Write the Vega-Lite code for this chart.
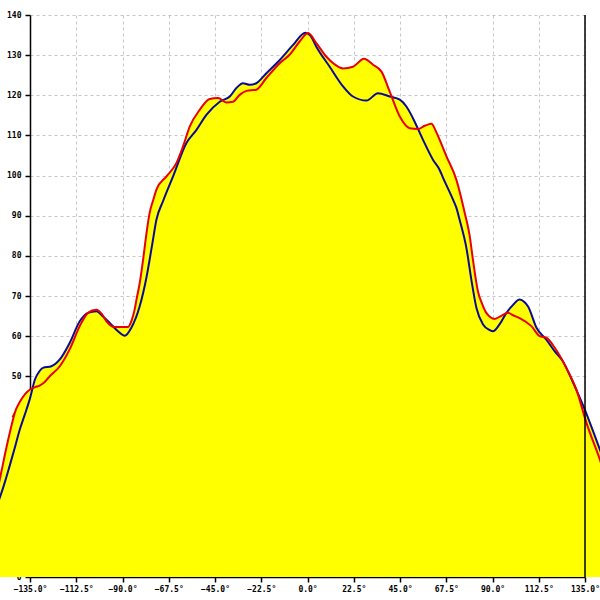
{
  "$schema": "https://vega.github.io/schema/vega-lite/v6.json",
  "width": 555,
  "height": 562,
  "autosize": {"type": "none"},
  "padding": {"left": 30, "top": 15, "right": 15, "bottom": 23},
  "background": "white",
  "view": {"stroke": null},
  "config": {
    "axis": {
      "labelFont": "DejaVu Sans Mono",
      "labelFontSize": 8,
      "labelFontWeight": "bold",
      "labelColor": "black",
      "domain": true,
      "ticks": true,
      "domainColor": "#000000",
      "domainWidth": 1.5,
      "domainOpacity": 1,
      "tickColor": "#000000",
      "tickWidth": 1.5,
      "tickOpacity": 1,
      "tickSize": 5,
      "gridDash": [3, 3],
      "gridColor": "#999999",
      "gridOpacity": 0.55,
      "title": null,
      "zindex": 1,
      "labelFlush": false,
      "labelOverlap": false,
      "labelBound": false
    }
  },
  "data": {
    "values": [
      {"angle": -152, "series": "s1", "value": 16.5},
      {"angle": -150, "series": "s1", "value": 19.3},
      {"angle": -147, "series": "s1", "value": 24},
      {"angle": -145, "series": "s1", "value": 27.5},
      {"angle": -142.5, "series": "s1", "value": 32},
      {"angle": -140, "series": "s1", "value": 36.7},
      {"angle": -137.5, "series": "s1", "value": 40.5},
      {"angle": -135, "series": "s1", "value": 44.5},
      {"angle": -132.6, "series": "s1", "value": 49.2},
      {"angle": -130.5, "series": "s1", "value": 51.2},
      {"angle": -128.7, "series": "s1", "value": 52.1},
      {"angle": -124.6, "series": "s1", "value": 52.5},
      {"angle": -120.5, "series": "s1", "value": 54.2},
      {"angle": -115.7, "series": "s1", "value": 58.3},
      {"angle": -110.8, "series": "s1", "value": 63.7},
      {"angle": -106.8, "series": "s1", "value": 65.8},
      {"angle": -102.7, "series": "s1", "value": 66.2},
      {"angle": -99.5, "series": "s1", "value": 64.9},
      {"angle": -96.2, "series": "s1", "value": 63.3},
      {"angle": -92.2, "series": "s1", "value": 61.2},
      {"angle": -88.9, "series": "s1", "value": 60.1},
      {"angle": -85.7, "series": "s1", "value": 62.1},
      {"angle": -81.6, "series": "s1", "value": 67.5},
      {"angle": -78.4, "series": "s1", "value": 74.5},
      {"angle": -75.5, "series": "s1", "value": 83},
      {"angle": -73.5, "series": "s1", "value": 89},
      {"angle": -70.3, "series": "s1", "value": 93.6},
      {"angle": -65.4, "series": "s1", "value": 99.8},
      {"angle": -58.9, "series": "s1", "value": 108.1},
      {"angle": -54, "series": "s1", "value": 111.4},
      {"angle": -49.2, "series": "s1", "value": 115.1},
      {"angle": -42.7, "series": "s1", "value": 118.4},
      {"angle": -37.8, "series": "s1", "value": 119.7},
      {"angle": -34.6, "series": "s1", "value": 121.8},
      {"angle": -31.4, "series": "s1", "value": 123},
      {"angle": -28.1, "series": "s1", "value": 122.6},
      {"angle": -24.9, "series": "s1", "value": 123},
      {"angle": -20, "series": "s1", "value": 125.5},
      {"angle": -13.5, "series": "s1", "value": 128.8},
      {"angle": -7.1, "series": "s1", "value": 132.5},
      {"angle": -1, "series": "s1", "value": 135.6},
      {"angle": 1.5, "series": "s1", "value": 134.8},
      {"angle": 4.3, "series": "s1", "value": 132.1},
      {"angle": 10.8, "series": "s1", "value": 127.1},
      {"angle": 17.3, "series": "s1", "value": 122.2},
      {"angle": 22.1, "series": "s1", "value": 119.7},
      {"angle": 28.7, "series": "s1", "value": 118.7},
      {"angle": 34.3, "series": "s1", "value": 120.5},
      {"angle": 40, "series": "s1", "value": 119.7},
      {"angle": 44.9, "series": "s1", "value": 118.9},
      {"angle": 48.1, "series": "s1", "value": 117.2},
      {"angle": 51.3, "series": "s1", "value": 114.3},
      {"angle": 56.2, "series": "s1", "value": 108.9},
      {"angle": 61.1, "series": "s1", "value": 103.9},
      {"angle": 64.3, "series": "s1", "value": 101.4},
      {"angle": 65.9, "series": "s1", "value": 99.5},
      {"angle": 70.8, "series": "s1", "value": 94},
      {"angle": 72.4, "series": "s1", "value": 92},
      {"angle": 74, "series": "s1", "value": 89},
      {"angle": 77.3, "series": "s1", "value": 82},
      {"angle": 79.7, "series": "s1", "value": 74.1},
      {"angle": 82.2, "series": "s1", "value": 67},
      {"angle": 85.4, "series": "s1", "value": 62.9},
      {"angle": 88.6, "series": "s1", "value": 61.5},
      {"angle": 90.2, "series": "s1", "value": 61.2},
      {"angle": 93.5, "series": "s1", "value": 63},
      {"angle": 96.8, "series": "s1", "value": 65.8},
      {"angle": 100, "series": "s1", "value": 67.8},
      {"angle": 103.2, "series": "s1", "value": 69.1},
      {"angle": 105.5, "series": "s1", "value": 68.5},
      {"angle": 107.3, "series": "s1", "value": 67.4},
      {"angle": 111.4, "series": "s1", "value": 62.1},
      {"angle": 116.2, "series": "s1", "value": 59.1},
      {"angle": 120.3, "series": "s1", "value": 56.2},
      {"angle": 124.3, "series": "s1", "value": 53.7},
      {"angle": 129.2, "series": "s1", "value": 48.4},
      {"angle": 134.9, "series": "s1", "value": 41.7},
      {"angle": 142.2, "series": "s1", "value": 31.8},
      {"angle": 145, "series": "s1", "value": 28},
      {"angle": -152, "series": "s2", "value": 19},
      {"angle": -149.7, "series": "s2", "value": 24.3},
      {"angle": -147, "series": "s2", "value": 31},
      {"angle": -144.8, "series": "s2", "value": 36},
      {"angle": -142, "series": "s2", "value": 41.5},
      {"angle": -140, "series": "s2", "value": 43.6},
      {"angle": -137.5, "series": "s2", "value": 45.5},
      {"angle": -135, "series": "s2", "value": 46.7},
      {"angle": -132.5, "series": "s2", "value": 47.3},
      {"angle": -130.3, "series": "s2", "value": 47.7},
      {"angle": -128, "series": "s2", "value": 48.5},
      {"angle": -125.4, "series": "s2", "value": 50},
      {"angle": -120.5, "series": "s2", "value": 52.5},
      {"angle": -115.7, "series": "s2", "value": 56.7},
      {"angle": -110.8, "series": "s2", "value": 62.5},
      {"angle": -106.8, "series": "s2", "value": 65.8},
      {"angle": -102.7, "series": "s2", "value": 66.6},
      {"angle": -100, "series": "s2", "value": 65.5},
      {"angle": -97.8, "series": "s2", "value": 63.7},
      {"angle": -93.8, "series": "s2", "value": 62.3},
      {"angle": -90, "series": "s2", "value": 62.3},
      {"angle": -87.3, "series": "s2", "value": 62.3},
      {"angle": -85.5, "series": "s2", "value": 64},
      {"angle": -84.1, "series": "s2", "value": 66.6},
      {"angle": -83.2, "series": "s2", "value": 69.1},
      {"angle": -81.6, "series": "s2", "value": 73.3},
      {"angle": -80, "series": "s2", "value": 79},
      {"angle": -78.5, "series": "s2", "value": 85},
      {"angle": -76.8, "series": "s2", "value": 90.7},
      {"angle": -75, "series": "s2", "value": 94},
      {"angle": -73.5, "series": "s2", "value": 96.5},
      {"angle": -68.6, "series": "s2", "value": 99.8},
      {"angle": -63.8, "series": "s2", "value": 103.1},
      {"angle": -60.6, "series": "s2", "value": 107.2},
      {"angle": -57.3, "series": "s2", "value": 112.2},
      {"angle": -52.4, "series": "s2", "value": 116.4},
      {"angle": -47.6, "series": "s2", "value": 119.1},
      {"angle": -43.5, "series": "s2", "value": 119.3},
      {"angle": -39.5, "series": "s2", "value": 118.2},
      {"angle": -36.2, "series": "s2", "value": 118.4},
      {"angle": -33, "series": "s2", "value": 120.1},
      {"angle": -29.7, "series": "s2", "value": 121.1},
      {"angle": -24.9, "series": "s2", "value": 121.4},
      {"angle": -20, "series": "s2", "value": 124.3},
      {"angle": -13.5, "series": "s2", "value": 128},
      {"angle": -8.7, "series": "s2", "value": 130.1},
      {"angle": -3.8, "series": "s2", "value": 133.4},
      {"angle": 0.3, "series": "s2", "value": 135.5},
      {"angle": 4.3, "series": "s2", "value": 133},
      {"angle": 9.2, "series": "s2", "value": 129.6},
      {"angle": 13, "series": "s2", "value": 127.8},
      {"angle": 17.3, "series": "s2", "value": 126.7},
      {"angle": 22.1, "series": "s2", "value": 127.1},
      {"angle": 27.5, "series": "s2", "value": 129.1},
      {"angle": 31.9, "series": "s2", "value": 127.6},
      {"angle": 36, "series": "s2", "value": 125.9},
      {"angle": 40, "series": "s2", "value": 120.9},
      {"angle": 44.9, "series": "s2", "value": 114.7},
      {"angle": 49.7, "series": "s2", "value": 111.8},
      {"angle": 53.8, "series": "s2", "value": 111.6},
      {"angle": 57, "series": "s2", "value": 112.4},
      {"angle": 60.3, "series": "s2", "value": 112.9},
      {"angle": 62.5, "series": "s2", "value": 111},
      {"angle": 64.3, "series": "s2", "value": 108.9},
      {"angle": 67.6, "series": "s2", "value": 104.8},
      {"angle": 72.4, "series": "s2", "value": 99},
      {"angle": 76.5, "series": "s2", "value": 90.7},
      {"angle": 78.9, "series": "s2", "value": 85},
      {"angle": 80.5, "series": "s2", "value": 79},
      {"angle": 82.9, "series": "s2", "value": 71.2},
      {"angle": 85, "series": "s2", "value": 68},
      {"angle": 87, "series": "s2", "value": 65.8},
      {"angle": 91.1, "series": "s2", "value": 64.3},
      {"angle": 94, "series": "s2", "value": 65},
      {"angle": 97.5, "series": "s2", "value": 65.8},
      {"angle": 100, "series": "s2", "value": 65.2},
      {"angle": 103.2, "series": "s2", "value": 64.5},
      {"angle": 108.9, "series": "s2", "value": 62.5},
      {"angle": 113, "series": "s2", "value": 60},
      {"angle": 116.2, "series": "s2", "value": 59.6},
      {"angle": 120.3, "series": "s2", "value": 57.1},
      {"angle": 125.9, "series": "s2", "value": 52.1},
      {"angle": 130.8, "series": "s2", "value": 46.7},
      {"angle": 135.7, "series": "s2", "value": 38.4},
      {"angle": 142.2, "series": "s2", "value": 29.3},
      {"angle": 145, "series": "s2", "value": 25}
    ]
  },
  "layer": [
    {
      "mark": {"type": "area", "color": "#ffff00", "interpolate": "monotone", "clip": false},
      "encoding": {
        "x": {
          "field": "angle",
          "type": "quantitative",
          "scale": {"domain": [-135, 135], "nice": false, "zero": false},
          "axis": {
            "values": [-135, -112.5, -90, -67.5, -45, -22.5, 0, 22.5, 45, 67.5, 90, 112.5, 135],
            "labelExpr": "format(datum.value, '.1f') + '°'",
            "labelPadding": 3,
            "domain": true,
            "domainColor": "#000000",
            "ticks": true
          }
        },
        "y": {
          "field": "value",
          "type": "quantitative",
          "stack": null,
          "scale": {"domain": [0, 140], "nice": false, "zero": true},
          "axis": {
            "values": [0, 10, 20, 30, 40, 50, 60, 70, 80, 90, 100, 110, 120, 130, 140],
            "labelPadding": 4,
            "domain": true,
            "domainColor": "#000000",
            "ticks": true
          }
        },
        "detail": {"field": "series"}
      }
    },
    {
      "mark": {"type": "line", "strokeWidth": 2, "interpolate": "monotone", "clip": false},
      "encoding": {
        "x": {"field": "angle", "type": "quantitative"},
        "y": {"field": "value", "type": "quantitative"},
        "color": {
          "field": "series",
          "type": "nominal",
          "scale": {"domain": ["s1", "s2"], "range": ["#0a0a9a", "#e80000"]},
          "legend": null
        }
      }
    },
    {
      "data": {"values": [{}]},
      "mark": {"type": "rule", "color": "black", "strokeWidth": 1.5},
      "encoding": {"x": {"datum": 135, "type": "quantitative"}}
    }
  ]
}
